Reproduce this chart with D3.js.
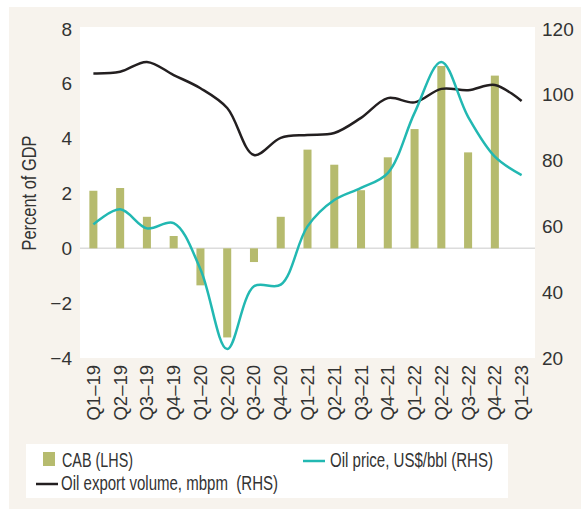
<!DOCTYPE html>
<html>
<head>
<meta charset="utf-8">
<script src="https://cdn.jsdelivr.net/npm/d3@7"></script>
<style>
  body { margin: 0; background: #fff; }
  text { font-family: "Liberation Sans Narrow", "Arial Narrow", "Liberation Sans", sans-serif; fill: #333; }
</style>
</head>
<body>
<div id="chart"></div>
<script>
// data
var quarters = ["Q1\u201319","Q2\u201319","Q3\u201319","Q4\u201319","Q1\u201320","Q2\u201320","Q3\u201320","Q4\u201320",
                "Q1\u201321","Q2\u201321","Q3\u201321","Q4\u201321","Q1\u201322","Q2\u201322","Q3\u201322","Q4\u201322","Q1\u201323"];
var cab = [2.1, 2.2, 1.15, 0.45, -1.35, -3.25, -0.5, 1.15, 3.6, 3.05, 2.12, 3.32, 4.35, 6.65, 3.5, 6.3, null];
var oilPrice = [60.6, 65.2, 59.4, 61, 47, 22.7, 41.8, 42.3, 60, 68, 71.7, 76.2, 94.5, 110, 93.3, 81.2, 75.6];
var oilVolume = [106.5, 107, 110, 106, 102, 96, 81.7, 86.9, 87.8, 88.4, 93, 99, 97.7, 101.8, 101.4, 103, 98.1];
var leftTicks = [-4, -2, 0, 2, 4, 6, 8];
var rightTicks = [20, 40, 60, 80, 100, 120];

var svgWidth = 581, svgHeight = 510;
var plot = {left: 80, right: 535, top: 29, bottom: 358};

var svg = d3.select("#chart").append("svg")
    .attr("width", svgWidth).attr("height", svgHeight);

// squeeze text to look like the condensed face of the original
function condense(sel, len) {
    sel.attr("textLength", len).attr("lengthAdjust", "spacingAndGlyphs");
}

// background panel
svg.append("rect")
    .attr("x", 9).attr("y", 7).attr("width", svgWidth - 9).attr("height", 502)
    .attr("fill", "#f7f3ed");
svg.append("rect")
    .attr("x", plot.left).attr("y", 27).attr("width", plot.right - plot.left).attr("height", plot.bottom - 27)
    .attr("fill", "#fff");

var x = d3.scaleBand().domain(quarters).range([plot.left, plot.right]).paddingInner(0.7).paddingOuter(0.35);
var yL = d3.scaleLinear().domain([-4, 8]).range([plot.bottom, plot.top]);
var yR = d3.scaleLinear().domain([20, 120]).range([plot.bottom, plot.top]);
var cx = function(d, i) { return x(quarters[i]) + x.bandwidth() / 2; };

// zero line
svg.append("line")
    .attr("x1", plot.left).attr("x2", plot.right)
    .attr("y1", yL(0)).attr("y2", yL(0))
    .attr("stroke", "#dcdcdc").attr("stroke-width", 1.5);

// bars
svg.append("g").selectAll("rect")
    .data(cab.map(function(v, i) { return {q: quarters[i], v: v}; }).filter(function(d) { return d.v !== null; }))
    .enter().append("rect")
        .attr("x", function(d) { return x(d.q); })
        .attr("width", x.bandwidth())
        .attr("y", function(d) { return yL(Math.max(0, d.v)); })
        .attr("height", function(d) { return Math.abs(yL(d.v) - yL(0)); })
        .attr("fill", "#b6bb6e");

// lines
var line = d3.line()
    .x(cx)
    .y(function(d) { return yR(d); })
    .curve(d3.curveCatmullRom.alpha(0.5));

svg.append("path").datum(oilVolume)
    .attr("d", line).attr("fill", "none")
    .attr("stroke", "#231f20").attr("stroke-width", 2.5);
svg.append("path").datum(oilPrice)
    .attr("d", line).attr("fill", "none")
    .attr("stroke", "#22b8b2").attr("stroke-width", 2.5);

// axes
var yAxisL = d3.axisLeft(yL).tickValues(leftTicks).tickSize(0).tickPadding(8)
    .tickFormat(function(d) { return d < 0 ? "\u2212" + Math.abs(d) : d; });
svg.append("g").attr("transform", "translate(" + plot.left + ",0)").call(yAxisL)
    .call(function(g) { g.select(".domain").remove(); })
    .selectAll("text").attr("font-size", "19px");

var yAxisR = d3.axisRight(yR).tickValues(rightTicks).tickSize(0).tickPadding(7);
svg.append("g").attr("transform", "translate(" + plot.right + ",0)").call(yAxisR)
    .call(function(g) { g.select(".domain").remove(); })
    .selectAll("text").attr("font-size", "19px");

var xAxis = d3.axisBottom(x).tickSize(0).tickPadding(0);
svg.append("g").attr("transform", "translate(0," + plot.bottom + ")").call(xAxis)
    .call(function(g) { g.select(".domain").remove(); })
    .selectAll("text")
        .attr("font-size", "18.5px")
        .attr("text-anchor", "end")
        .attr("dy", "0.35em")
        .attr("transform", "rotate(-90) translate(-7,0)")
        .attr("y", 0).attr("x", 0);

// y title
svg.append("text")
    .attr("transform", "translate(36,193) rotate(-90)")
    .attr("text-anchor", "middle")
    .attr("font-size", "20px")
    .text("Percent of GDP")
    .call(condense, 115);

// legend
var lg = svg.append("g");
lg.append("rect").attr("x", 26).attr("y", 444).attr("width", 482).attr("height", 54).attr("fill", "#fff");
lg.append("rect").attr("x", 43).attr("y", 452).attr("width", 12).attr("height", 14).attr("fill", "#b6bb6e");
lg.append("text").attr("x", 62).attr("y", 467).attr("font-size", "19.5px").text("CAB (LHS)")
    .call(condense, 71);
lg.append("line").attr("x1", 303).attr("x2", 325).attr("y1", 461).attr("y2", 461)
    .attr("stroke", "#22b8b2").attr("stroke-width", 2.5);
lg.append("text").attr("x", 330).attr("y", 467).attr("font-size", "19.5px").text("Oil price, US$/bbl (RHS)")
    .call(condense, 163);
lg.append("line").attr("x1", 36).attr("x2", 58).attr("y1", 484).attr("y2", 484)
    .attr("stroke", "#231f20").attr("stroke-width", 2.5);
lg.append("text").attr("x", 61).attr("y", 490).attr("font-size", "19.5px").attr("xml:space", "preserve")
    .text("Oil export volume, mbpm  (RHS)")
    .call(condense, 217);
</script>
</body>
</html>
